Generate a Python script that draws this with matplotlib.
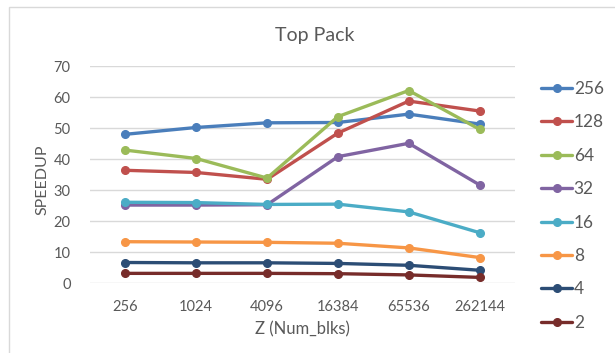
import matplotlib
matplotlib.use("Agg")
import matplotlib.pyplot as plt
from matplotlib.patches import Rectangle

plt.rcParams['font.family'] = ['Lato', 'DejaVu Sans']

categories = ["256", "1024", "4096", "16384", "65536", "262144"]
series_names = ["256", "128", "64", "32", "16", "8", "4", "2"]
s256 = [48.0, 50.2, 51.7, 51.8, 54.5, 51.3]
s128 = [36.4, 35.7, 33.5, 48.4, 58.7, 55.5]
s64 = [42.9, 40.2, 33.9, 53.7, 62.1, 49.6]
s32 = [25.2, 25.2, 25.3, 40.8, 45.1, 31.7]
s16 = [26.1, 26.0, 25.4, 25.5, 23.0, 16.3]
s8 = [13.4, 13.3, 13.2, 12.9, 11.4, 8.3]
s4 = [6.7, 6.6, 6.6, 6.4, 5.8, 4.2]
s2 = [3.2, 3.2, 3.2, 3.1, 2.7, 1.9]
y_ticks = [0, 10, 20, 30, 40, 50, 60, 70]

series_values = [s256, s128, s64, s32, s16, s8, s4, s2]
colors = ["#4A7EBB", "#C0504D", "#9BBB59", "#8064A2",
          "#4BACC6", "#F79646", "#2C4D75", "#772C2A"]
text_color = "#595959"
grid_color = "#D9D9D9"

W, H = 615, 353
fig = plt.figure(figsize=(W / 100, H / 100), dpi=100)

# outer chart border
fig.patches.append(Rectangle((9 / W, -0.1), 1.2, 1.1 - 7 / H,
                             transform=fig.transFigure, fill=False,
                             edgecolor=grid_color, linewidth=1.0))

ax = fig.add_axes([90 / W, (H - 283.3) / H, (515 - 90) / W, (283.3 - 66) / H])
x = list(range(len(categories)))
for name, vals, c in zip(series_names, series_values, colors):
    ax.plot(x, vals, color=c, linewidth=2.4, marker='o', markersize=5.5,
            label=name, clip_on=False, solid_capstyle='round')

ax.set_xlim(-0.5, len(categories) - 0.5)
ax.set_ylim(0, 70)
ax.set_yticks(y_ticks)
ax.set_xticks(x)
ax.set_xticklabels(categories)
ax.yaxis.grid(True, color=grid_color, linewidth=1.0)
ax.set_axisbelow(True)
for sp in ax.spines.values():
    sp.set_visible(False)
ax.tick_params(axis='both', length=0, labelsize=10.5, colors=text_color)
ax.tick_params(axis='y', pad=14)
ax.tick_params(axis='x', pad=12)

fig.text(315 / W, 1 - 35 / H, "Top Pack", ha='center', va='center',
         fontsize=14, color=text_color)
fig.text(42 / W, 1 - 180 / H, "SPEEDUP", ha='center', va='center',
         rotation=90, fontsize=11.5, color=text_color)
fig.text(302.5 / W, 1 - 329 / H, "Z (Num_blks)", ha='center', va='center',
         fontsize=12, color=text_color)

leg = ax.legend(loc='upper left', bbox_to_anchor=(541 / W, 1 - 81 / H),
                bbox_transform=fig.transFigure, frameon=False,
                fontsize=12.4, labelspacing=1.01, handlelength=1.8,
                handletextpad=0.1, borderpad=0, borderaxespad=0)
for t in leg.get_texts():
    t.set_color(text_color)

fig.savefig("out.png", dpi=100)
